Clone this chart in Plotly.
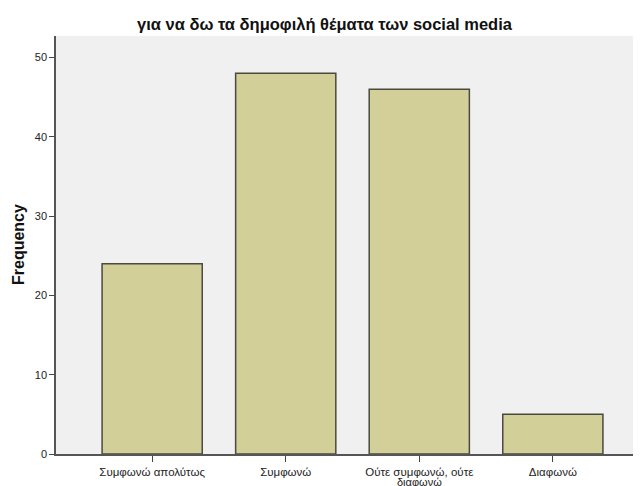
import plotly.graph_objects as go

categories = ["Συμφωνώ απολύτως", "Συμφωνώ", "Ούτε συμφωνώ, ούτε", "Διαφωνώ"]
category_second_line = ["", "", "διαφωνώ", ""]
frequencies = [24, 48, 46, 5]
y_ticks = [0, 10, 20, 30, 40, 50]

# the page body has an 8px margin, so the figure is sized to fill the window
fig = go.Figure()
fig.add_trace(go.Bar(
    x=list(range(len(categories))),
    y=frequencies,
    width=0.75,
    marker=dict(color="#d3cf98", line=dict(color="#4a4a40", width=1.5)),
))

fig.update_layout(
    width=633, height=478,
    margin=dict(l=48, r=0, t=28, b=32),
    paper_bgcolor="white",
    plot_bgcolor="#f0f0f0",
    showlegend=False,
    font=dict(family="Liberation Sans, Arial, sans-serif", color="#222"),
    title=dict(
        text="<b>για να δω τα δημοφιλή θέματα των social media</b>",
        x=0.5, xanchor="center", y=1 - 16 / 478, yanchor="middle",
        font=dict(size=16.5, color="#111"),
    ),
)
fig.update_xaxes(
    range=[-0.72, 3.66],
    tickmode="array",
    tickvals=list(range(len(categories))),
    ticktext=categories,
    ticks="outside", ticklen=6, tickcolor="#444", tickwidth=1,
    tickfont=dict(size=11.5, color="#222"),
    ticklabelstandoff=0,
    showline=True, linecolor="#555", linewidth=1.5,
    showgrid=False, zeroline=False, automargin=False,
)
fig.update_yaxes(
    range=[0, 52.7],
    tickmode="array",
    tickvals=y_ticks,
    ticks="outside", ticklen=5, tickcolor="#444", tickwidth=1,
    tickfont=dict(size=11, color="#222"),
    showline=True, linecolor="#555", linewidth=1.5, mirror=True,
    showgrid=False, zeroline=False, automargin=False,
)
fig.add_annotation(
    text="<b>Frequency</b>", xref="paper", yref="paper",
    x=-38 / 585, y=0.5, xanchor="center", yanchor="middle", textangle=-90,
    showarrow=False, font=dict(size=16, color="#111"),
)
for i, extra in enumerate(category_second_line):
    if extra:
        fig.add_annotation(
            text=extra, xref="x", yref="paper", x=i, y=0,
            xanchor="center", yanchor="middle", yshift=-27.5,
            showarrow=False, font=dict(size=11, color="#222"),
        )

fig.write_html("out.html")
